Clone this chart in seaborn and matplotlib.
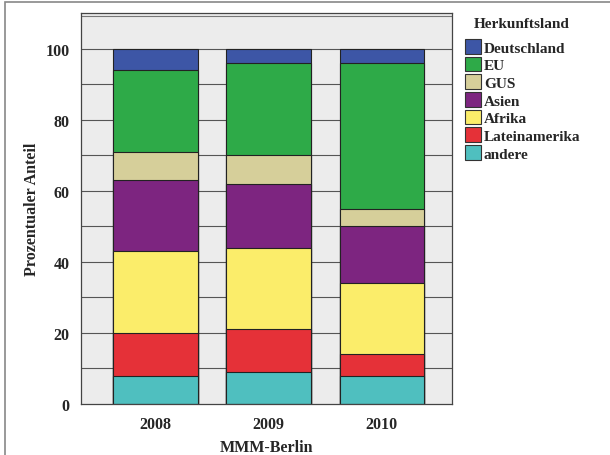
import matplotlib
matplotlib.use('Agg')
import matplotlib.pyplot as plt
import matplotlib.patches as mpatches
import numpy as np
import pandas as pd
import seaborn as sns

# Herkunftsland shares per year, bottom to top stacking order
years = ['2008', '2009', '2010']
herkunft = ['andere', 'Lateinamerika', 'Afrika', 'Asien', 'GUS', 'EU', 'Deutschland']
andere = [8, 9, 8]
lateinamerika = [12, 12, 6]
afrika = [23, 23, 20]
asien = [20, 18, 16]
gus = [8, 8, 5]
eu = [23, 26, 41]
deutschland = [6, 4, 4]
colors = ['#4fbfbf', '#e53138', '#fbed6a', '#7d2580', '#d6cf9a', '#2eaa48', '#3d56a6']

sns.set_style('white')
plt.rcParams['font.family'] = ['Liberation Serif', 'DejaVu Serif']
plt.rcParams['font.weight'] = 'bold'

values = [andere, lateinamerika, afrika, asien, gus, eu, deutschland]
df = pd.DataFrame(dict(zip(herkunft, values)), index=years)
cum = df.cumsum(axis=1)

fig = plt.figure(figsize=(6.1, 4.56), dpi=100)
ax = fig.add_axes([0.133, 0.112, 0.608, 0.857])
ax.set_facecolor('#ececec')

# horizontal grid every 10
for yv in range(10, 110, 10):
    ax.axhline(yv, color='#555555', lw=0.8, zorder=0)
ax.axhline(109.2, color='#777777', lw=0.8, zorder=0)

# draw cumulative bars from top segment down so lower ones overlay
for name, col in reversed(list(zip(herkunft, colors))):
    sns.barplot(x=years, y=cum[name].values, color=col, width=0.75,
                edgecolor='#222222', linewidth=0.8, saturation=1, ax=ax, zorder=2)

ax.set_xlim(-0.66, 2.62)
ax.set_ylim(0, 110)
ax.set_yticks(range(0, 101, 20))
ax.tick_params(axis='both', direction='out', length=5, width=0.8, labelsize=11.5, color='#333333')
for lab in ax.get_xticklabels() + ax.get_yticklabels():
    lab.set_fontweight('bold')
for s in ax.spines.values():
    s.set_color('#444444')
    s.set_linewidth(0.9)

ax.set_xlabel('MMM-Berlin', fontsize=11.5, fontweight='bold', labelpad=5)
ax.set_ylabel('Prozentualer Anteil', fontsize=11.5, fontweight='bold', labelpad=4)

handles = [mpatches.Patch(facecolor=c, edgecolor='#333333', linewidth=0.8, label=n)
           for n, c in reversed(list(zip(herkunft, colors)))]
fig.text(0.855, 1 - 25 / 456, 'Herkunftsland', ha='center', va='center',
         fontsize=11, fontweight='bold')
leg = fig.legend(handles=handles, loc='upper left',
                 bbox_to_anchor=(0.763, 1 - 40 / 456), frameon=False, fontsize=11,
                 borderpad=0, borderaxespad=0,
                 handlelength=1.0, handleheight=1.1, handletextpad=0.2,
                 labelspacing=0.14)

# outer frame
fig.patches.append(mpatches.Rectangle((0.008, -0.01), 1.2, 1.003, transform=fig.transFigure,
                                      fill=False, edgecolor='#888888', linewidth=1.2))

fig.savefig('out.png', dpi=100)
